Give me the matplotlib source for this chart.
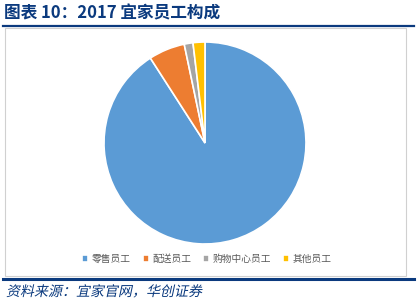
import matplotlib.pyplot as plt
from matplotlib.patches import Rectangle, PathPatch
from matplotlib.lines import Line2D
from matplotlib.textpath import TextPath
from matplotlib.font_manager import FontProperties
from matplotlib.transforms import Affine2D

plt.rcParams['font.family'] = ['Noto Sans CJK SC', 'DejaVu Sans']

categories = ['零售员工', '配送员工', '购物中心员工', '其他员工']
shares = [90.9, 5.8, 1.4, 1.9]
colors = ['#5B9BD5', '#ED7D31', '#A5A5A5', '#FFC000']

navy = '#0B3A7E'

fig = plt.figure(figsize=(4.17, 3.0), dpi=100)
W, H = 417, 300

def fx(px):
    return px / W

def fy(py):
    return 1 - py / H

# title and rules
fig.text(fx(4), fy(13), '图表 10：2017 宜家员工构成', fontsize=12, fontweight='bold',
         color=navy, va='center', ha='left')
fig.add_artist(Line2D([fx(3), fx(414)], [fy(26), fy(26)], color=navy, lw=1.6))
fig.add_artist(Line2D([fx(3), fx(414)], [fy(279), fy(279)], color=navy, lw=2.2))
fig.add_artist(Rectangle((fx(5), fy(276)), fx(401), fy(28) - fy(276), fill=False,
                         edgecolor='#D0D0D0', lw=0.8))

# source note, slanted by hand since the CJK font has no italic
src = TextPath((0, 0), '资料来源：宜家官网，华创证券', size=14,
               prop=FontProperties(family='Noto Sans CJK SC'))
tr = Affine2D().skew_deg(12, 0).translate(6, H - 296)
fig.add_artist(PathPatch(src, transform=tr, color=navy, lw=0))

# pie
ax = fig.add_axes([fx(103), fy(245), fx(204), fy(41) - fy(245)])
wedges, _ = ax.pie(shares, colors=colors, startangle=90, counterclock=False,
                   wedgeprops=dict(edgecolor='white', linewidth=1.2))
ax.set_xlim(-1.01, 1.01)
ax.set_ylim(-1.01, 1.01)
ax.set_aspect('equal')

fig.legend(wedges, categories, loc='center', bbox_to_anchor=(fx(207), fy(259)),
           ncol=4, frameon=False, fontsize=7, handlelength=0.6, handleheight=0.6,
           handletextpad=0.4, columnspacing=1.2, labelcolor='#595959')

fig.savefig('out.png', dpi=100)
